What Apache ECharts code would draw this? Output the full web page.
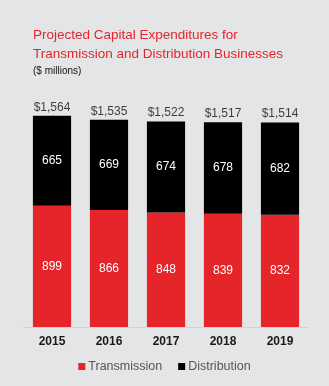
<!DOCTYPE html>
<html>
<head>
<meta charset="utf-8">
<style>
  html, body { margin: 0; padding: 0; background: #e4e5e7; }
  #chart { width: 329px; height: 386px; }
</style>
<script src="https://cdn.jsdelivr.net/npm/echarts@6/dist/echarts.min.js"></script>
</head>
<body>
<div id="chart"></div>
<script>
// Projected capex by business line, $ millions
const years = ['2015', '2016', '2017', '2018', '2019'];
const transmission = [899, 866, 848, 839, 832];
const distribution = [665, 669, 674, 678, 682];
const totals = [1564, 1535, 1522, 1517, 1514];

const RED = '#e5252a';
const BLACK = '#000000';
const FONT = '"Liberation Sans", Arial, sans-serif';

const chart = echarts.init(document.getElementById('chart'));

const innerLabel = {
  show: true,
  position: 'inside',
  color: '#ffffff',
  fontSize: 12,
  fontFamily: FONT
};

chart.setOption({
  backgroundColor: '#e4e5e7',
  animation: false,
  title: [
    {
      text: 'Projected Capital Expenditures for\nTransmission and Distribution Businesses',
      left: 28,
      top: 21,
      textStyle: { color: RED, fontSize: 13.5, fontWeight: 'normal', fontFamily: FONT, lineHeight: 19 }
    },
    {
      text: '($ millions)',
      left: 28,
      top: 61,
      textStyle: { color: '#111111', fontSize: 10, fontWeight: 'normal', fontFamily: FONT }
    }
  ],
  legend: {
    data: ['Transmission', 'Distribution'],
    bottom: 8,
    left: 'center',
    itemWidth: 7,
    itemHeight: 7,
    itemGap: 16,
    icon: 'rect',
    textStyle: { color: '#555555', fontSize: 12.5, fontFamily: FONT, padding: [0, 0, 0, -2] }
  },
  grid: { left: 23.5, right: 20.5, top: 111, bottom: 59 },
  xAxis: {
    type: 'category',
    data: years,
    axisLine: { lineStyle: { color: '#d2d3d5', width: 1 } },
    axisTick: { show: false },
    axisLabel: { color: '#1a1a1a', fontSize: 12, fontWeight: 'bold', fontFamily: FONT, margin: 9 }
  },
  yAxis: {
    type: 'value',
    min: 0,
    max: 1600,
    show: false,
    splitLine: { show: false }
  },
  series: [
    {
      name: 'Transmission',
      type: 'bar',
      stack: 'capex',
      data: transmission,
      barWidth: '67%',
      itemStyle: { color: RED },
      label: innerLabel
    },
    {
      name: 'Distribution',
      type: 'bar',
      stack: 'capex',
      data: distribution,
      itemStyle: { color: BLACK },
      label: innerLabel
    },
    {
      name: 'Total',
      type: 'scatter',
      data: totals,
      symbolSize: 1,
      itemStyle: { color: 'rgba(0,0,0,0)' },
      silent: true,
      label: {
        show: true,
        position: 'top',
        distance: 2,
        color: '#111111',
        fontSize: 12,
        fontFamily: FONT,
        formatter: p => '$' + p.value.toLocaleString('en-US')
      }
    }
  ]
});
</script>
</body>
</html>
